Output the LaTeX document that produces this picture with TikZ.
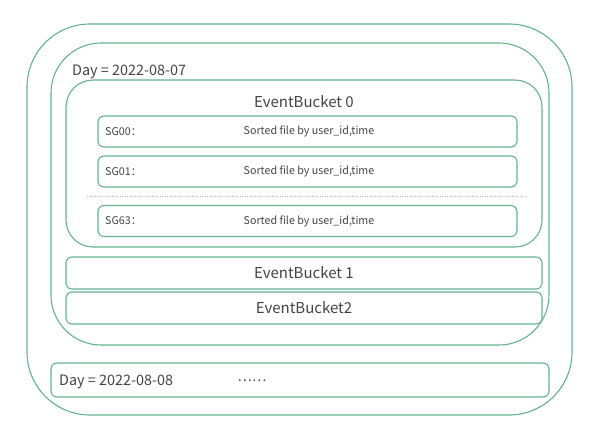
\documentclass[tikz,border=0pt]{standalone}
\usepackage{fontspec}
\setmainfont{Noto Sans CJK SC}
\definecolor{lg}{RGB}{100,178,142}
\definecolor{tx}{RGB}{68,68,68}
\definecolor{dotc}{RGB}{165,185,210}
\tikzset{
  box/.style={draw=lg, line width=1.1pt, rectangle, inner sep=0pt},
  big/.style={text=tx, font=\fontsize{15}{18}\selectfont, inner sep=0pt},
  daytxt/.style={text=tx, font=\fontsize{14.4}{17}\selectfont, inner sep=0pt},
  small/.style={text=tx, font=\fontsize{10.7}{13}\selectfont, inner sep=0pt},
}
\begin{document}
\begin{tikzpicture}[x=1pt,y=-1pt]
\useasboundingbox (0,0) rectangle (600,432);
\node[box, rounded corners=63pt, minimum width=545pt, minimum height=391pt] (outer) at (299.5,219.5) {};
\node[box, rounded corners=50pt, minimum width=498pt, minimum height=302pt] (day7) at (300,194) {};
\node[daytxt, anchor=west] (day7t) at (72,71.5) {Day = 2022-08-07};
\node[box, rounded corners=27pt, minimum width=476pt, minimum height=167pt] (eb0) at (304,163.5) {};
\node[big] (eb0t) at (304,102) {EventBucket 0};
\node[box, rounded corners=6pt, minimum width=419pt, minimum height=31pt] (sg00) at (307.5,131.5) {};
\node[box, rounded corners=6pt, minimum width=419pt, minimum height=31pt] (sg01) at (307.5,171.5) {};
\node[box, rounded corners=6pt, minimum width=419pt, minimum height=31pt] (sg63) at (307.5,221) {};
\node[small, anchor=west] (sg00a) at (105,131.5) {SG00：};
\node[small, anchor=west] (sg01a) at (105,171.5) {SG01：};
\node[small, anchor=west] (sg63a) at (105,221) {SG63：};
\node[small] (sg00b) at (309,131.5) {Sorted file by user\_id,time};
\node[small] (sg01b) at (309,171.5) {Sorted file by user\_id,time};
\node[small] (sg63b) at (309,221) {Sorted file by user\_id,time};
\coordinate (dl) at (87,196);
\coordinate (dr) at (525,196);
\draw[dotc, line width=0.6pt, dash pattern=on 1pt off 1.5pt] (dl) -- (dr);
\node[box, rounded corners=6pt, minimum width=476pt, minimum height=32pt] (eb1) at (304,273) {};
\node[big] (eb1t) at (304,273) {EventBucket 1};
\node[box, rounded corners=6pt, minimum width=476pt, minimum height=32pt] (eb2) at (304,308) {};
\node[big] (eb2t) at (304,308) {EventBucket2};
\node[box, rounded corners=6pt, minimum width=498pt, minimum height=34pt] (day8) at (300,380) {};
\node[daytxt, anchor=west] (day8t) at (59,381.5) {Day = 2022-08-08};
\node[text=tx, font=\fontsize{13.5}{16}\selectfont, inner sep=0pt] (ell) at (252,381) {……};
\end{tikzpicture}
\end{document}
